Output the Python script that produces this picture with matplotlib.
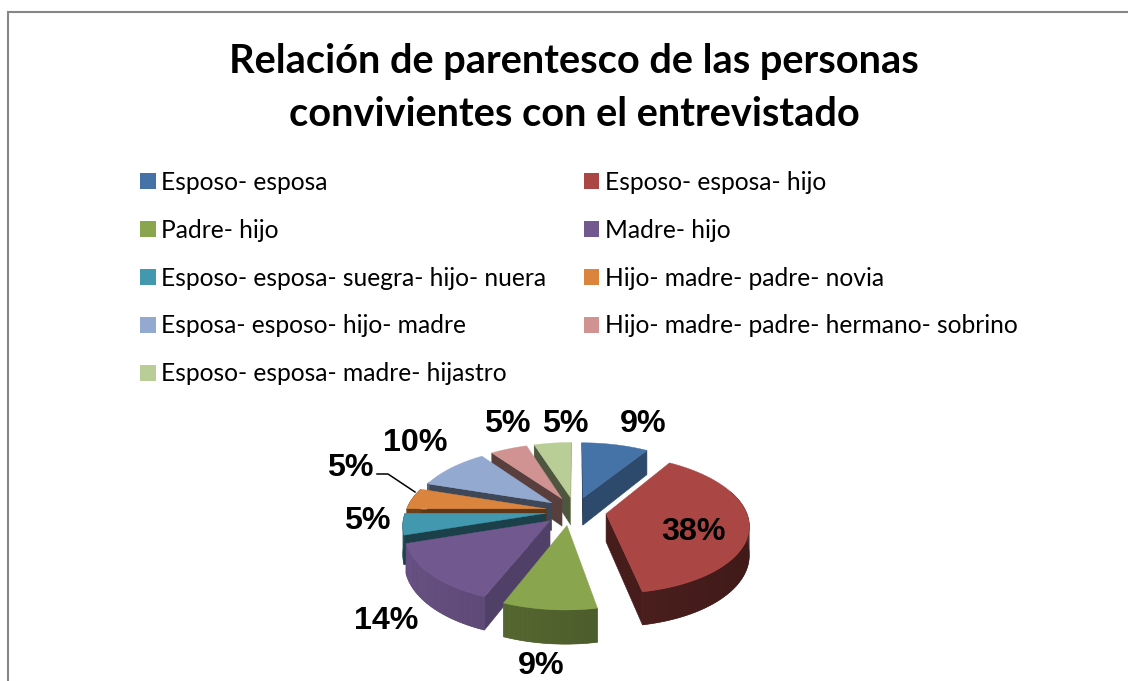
import numpy as np
import matplotlib
matplotlib.use("Agg")
import matplotlib.pyplot as plt
from matplotlib.patches import Polygon, Rectangle
from matplotlib.colors import to_rgb

title = "Relación de parentesco de las personas\nconvivientes con el entrevistado"
categories = ["Esposo- esposa", "Esposo- esposa- hijo", "Padre- hijo", "Madre- hijo",
              "Esposo- esposa- suegra- hijo- nuera", "Hijo- madre- padre- novia",
              "Esposa- esposo- hijo- madre", "Hijo- madre- padre- hermano- sobrino",
              "Esposo- esposa- madre- hijastro"]
values = [9, 38, 9, 14, 5, 5, 10, 5, 5]
colors = ["#4572A7", "#AA4643", "#89A54E", "#71588F", "#4198AF", "#DB843D",
          "#93A9CF", "#D19392", "#B9CD96"]
rim_levels = [0.62, 0.45, 0.58, 0.78, 0.42, 0.42, 0.5, 0.5, 0.5]
label_xy = [(643, 424), (693, 532), (541, 666), (386, 621), (367, 521),
            (350, 468), (415, 443), (507, 424), (565, 424)]
nudge_x = [0, 2, -5, -3, 0, 0, 0, 0, 0]

CX, CY, R, A, K, H, EXPL = 575.0, 511.0, 140.0, 67.0, 0.15, 28.0, 0.21


def project(u, v, z=0.0):
    w = 1 + K * v
    return CX + R * u / w, CY - A * v / w + H * z / w


def shade(col, f):
    return tuple(c * f for c in to_rgb(col))


fig = plt.figure(figsize=(11.28, 6.81), dpi=100)
ax = fig.add_axes([0, 0, 1, 1])
ax.set_xlim(0, 1128)
ax.set_ylim(681, 0)
ax.axis("off")

ax.add_patch(Rectangle((8, 12), 1200, 800, fc="white", ec="#868686", lw=1.5, zorder=0))

ax.text(574, 88, title, ha="center", va="center", fontsize=28.6, fontweight="bold",
        family="Lato", linespacing=1.52, color="black")

total = sum(values)
edges = np.cumsum([0] + values) / total * 2 * np.pi
slices = []
for i in range(len(values)):
    a0, a1 = edges[i], edges[i + 1]
    mid = (a0 + a1) / 2
    slices.append((np.cos(mid), i, a0, a1, mid))

for _, i, a0, a1, mid in sorted(slices, key=lambda s: -s[0]):
    ou, ov = EXPL * np.sin(mid) + nudge_x[i] / R, EXPL * np.cos(mid)
    th = np.linspace(a0, a1, max(6, int((a1 - a0) * 40)))
    us, vs = ou + np.sin(th), ov + np.cos(th)
    col = colors[i]

    # radial faces that look toward the viewer
    for ang, normal in ((a0, np.degrees(a0) - 90), (a1, np.degrees(a1) + 90)):
        if np.cos(np.radians(normal)) >= 0.01:
            continue
        f = float(np.interp(normal % 360, [110, 160], [0.72, 0.42]))
        eu, ev = ou + np.sin(ang), ov + np.cos(ang)
        quad = [project(ou, ov), project(eu, ev), project(eu, ev, 1), project(ou, ov, 1)]
        ax.add_patch(Polygon(quad, fc=shade(col, f), ec=shade(col, f), lw=0.4, zorder=2))

    # outer rim: solid underlay, then a gradient on top of it
    front = np.cos(th) < 0.35
    if front.any():
        idx = np.where(front)[0]
        upper = [project(us[j], vs[j]) for j in idx]
        lower = [project(us[j], vs[j], 1) for j in idx[::-1]]
        base = shade(col, rim_levels[i])
        ax.add_patch(Polygon(upper + lower, fc=base, ec=base, lw=0.4, zorder=2))
        for j in idx[:-1]:
            tm = (th[j] + th[j + 1]) / 2
            f = rim_levels[i] * (1 - 0.2 * np.sin(tm))
            c = shade(col, min(f, 1))
            quad = [project(us[j], vs[j]), project(us[j + 1], vs[j + 1]),
                    project(us[j + 1], vs[j + 1], 1), project(us[j], vs[j], 1)]
            ax.add_patch(Polygon(quad, fc=c, ec="none", zorder=2))

    top = [project(ou, ov)] + [project(u, v) for u, v in zip(us, vs)]
    ax.add_patch(Polygon(top, fc=col, ec=col, lw=0.3, zorder=2))

for v, (x, y) in zip(values, label_xy):
    ax.text(x, y, f"{v}%", ha="center", va="center", fontsize=23.2, fontweight="bold",
            family="Liberation Sans", color="black", zorder=5)
ax.plot([377, 388, 415], [474, 474, 492], color="black", lw=1.1, zorder=4)

order = [0, 2, 4, 6, 8, 1, 3, 5, 7]
handles = [Rectangle((0, 0), 1, 1, fc=colors[i], ec="none") for i in order]
ax.legend(handles, [categories[i] for i in order], ncol=2, loc="upper left",
          bbox_to_anchor=(133 / 1128, 1 - 163.5 / 681), frameon=False,
          prop={"family": "Lato", "size": 17.7}, handlelength=0.62, handleheight=0.62,
          handletextpad=0.22, labelspacing=1.01, columnspacing=1.55, borderpad=0.3,
          borderaxespad=0)

fig.savefig("out.png", dpi=100)
